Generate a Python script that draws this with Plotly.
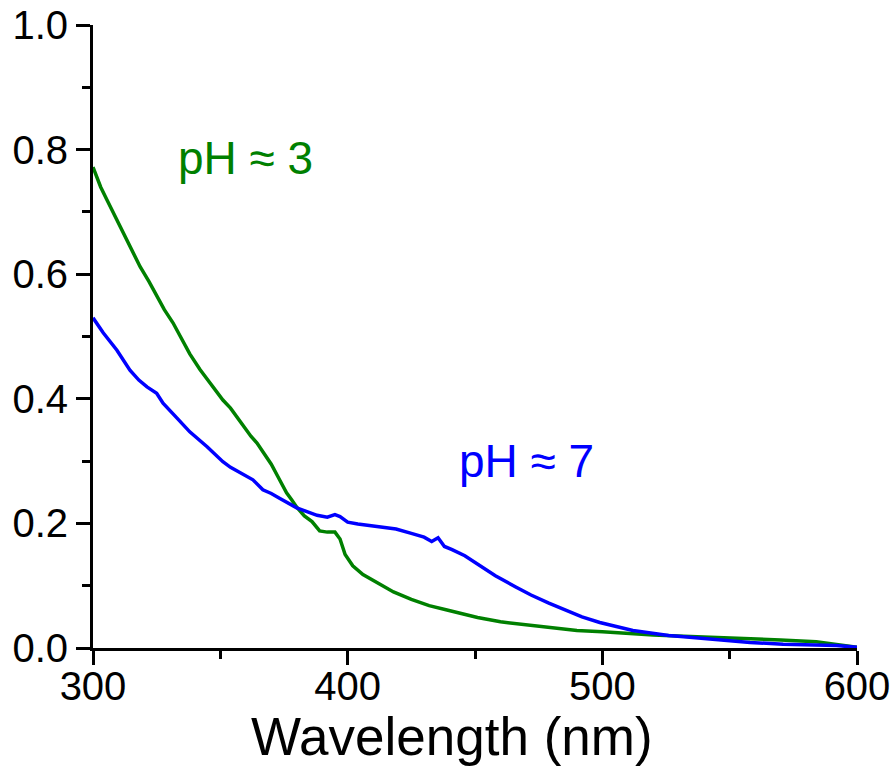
import plotly.graph_objects as go

# Absorbance spectra at two pH values
wl_ph3 = [300, 303, 305.5, 309, 312, 315, 318.5, 322, 325, 328, 331.4, 335, 338, 342,
          346, 351, 354, 358, 362, 364.4, 367, 370, 373, 376, 378, 380, 383, 386, 389,
          392, 395, 397, 399, 402, 406, 412, 418, 425, 432, 439, 445, 451, 460, 470,
          480, 490, 500, 510, 520, 532, 545, 558, 570, 584, 592, 600]
abs_ph3 = [0.772, 0.740, 0.719, 0.690, 0.666, 0.638, 0.612, 0.588, 0.565, 0.543, 0.522,
           0.495, 0.472, 0.447, 0.425, 0.398, 0.385, 0.362, 0.340, 0.329, 0.313, 0.295,
           0.272, 0.249, 0.238, 0.226, 0.212, 0.203, 0.188, 0.186, 0.186, 0.175, 0.150,
           0.132, 0.118, 0.104, 0.090, 0.078, 0.068, 0.061, 0.055, 0.049, 0.042, 0.037,
           0.032, 0.028, 0.026, 0.023, 0.021, 0.019, 0.017, 0.016, 0.013, 0.010, 0.006,
           0.001]

wl_ph7 = [300, 304, 309.4, 314.5, 318, 321.2, 325, 327.5, 333, 338, 344.8, 351, 354,
          357.7, 362.8, 366.7, 370, 373.4, 377, 380, 384, 388, 392, 395, 397, 400, 404,
          408, 413, 419, 425, 430, 433, 435.5, 438, 441, 446, 451, 458, 466, 472, 479,
          486, 492, 499, 506, 512, 519, 526, 532, 545, 558, 571, 584, 592, 600]
abs_ph7 = [0.530, 0.506, 0.478, 0.446, 0.430, 0.419, 0.409, 0.393, 0.369, 0.347, 0.323,
           0.299, 0.290, 0.281, 0.270, 0.254, 0.248, 0.240, 0.231, 0.225, 0.219, 0.213,
           0.210, 0.214, 0.211, 0.202, 0.199, 0.197, 0.195, 0.191, 0.184, 0.178, 0.171,
           0.177, 0.163, 0.158, 0.148, 0.135, 0.116, 0.098, 0.085, 0.072, 0.060, 0.050,
           0.041, 0.034, 0.028, 0.024, 0.020, 0.018, 0.013, 0.009, 0.006, 0.005, 0.004,
           0.001]

GREEN = "rgb(0,128,0)"
BLUE = "rgb(0,0,255)"
FONT = "Liberation Sans, Arial, sans-serif"

fig = go.Figure()
fig.add_trace(go.Scatter(x=wl_ph3, y=abs_ph3, mode="lines",
                         line=dict(color=GREEN, width=3.5), showlegend=False))
fig.add_trace(go.Scatter(x=wl_ph7, y=abs_ph7, mode="lines",
                         line=dict(color=BLUE, width=3.5), showlegend=False))

fig.add_annotation(x=359.7, y=0.786, text="pH ≈ 3", showarrow=False,
                   font=dict(family=FONT, size=46, color=GREEN))
fig.add_annotation(x=470.4, y=0.300, text="pH ≈ 7", showarrow=False,
                   font=dict(family=FONT, size=46, color=BLUE))

# x-axis title, set slightly left of the plot centre
fig.add_annotation(xref="paper", yref="paper", x=0.47, y=-0.142,
                   xanchor="center", yanchor="middle", showarrow=False,
                   text="Wavelength (nm)", font=dict(family=FONT, size=53, color="black"))

fig.update_layout(
    width=893, height=772,
    margin=dict(l=93, r=36, t=25, b=124),
    paper_bgcolor="white", plot_bgcolor="white",
    font=dict(family=FONT, color="black"),
    xaxis=dict(
        range=[300, 600], tickvals=[300, 400, 500, 600],
        automargin=False,
        showgrid=False, zeroline=False,
        showline=True, linecolor="black", linewidth=3,
        ticks="outside", ticklen=14, tickwidth=3, tickcolor="black",
        minor=dict(tickvals=[350, 450, 550], ticks="outside", ticklen=8,
                   tickwidth=3, tickcolor="black", showgrid=False),
        tickfont=dict(size=40, family=FONT),
        ticklabelstandoff=-13,
    ),
    yaxis=dict(
        range=[0, 1.0], tickvals=[0, 0.2, 0.4, 0.6, 0.8, 1.0], tickformat=".1f",
        automargin=False,
        showgrid=False, zeroline=False,
        showline=True, linecolor="black", linewidth=3,
        ticks="outside", ticklen=14, tickwidth=3, tickcolor="black",
        minor=dict(tickvals=[0.1, 0.3, 0.5, 0.7, 0.9], ticks="outside", ticklen=8,
                   tickwidth=3, tickcolor="black", showgrid=False),
        tickfont=dict(size=40, family=FONT),
    ),
)

fig.write_html("out.html")
